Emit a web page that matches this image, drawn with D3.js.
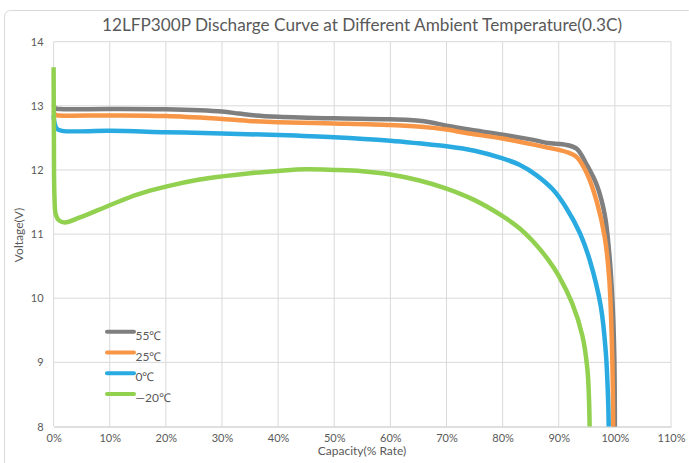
<!DOCTYPE html>
<html><head><meta charset="utf-8">
<script src="https://cdn.jsdelivr.net/npm/d3@7"></script>
<style>html,body{margin:0;padding:0;background:#fff;}svg{display:block;}</style>
</head><body>
<svg id="chart" width="689" height="463"></svg>
<script>
const seriesNames = ["55℃", "25℃", "0℃", "—20℃"];
const seriesColors = ["#7f7f7f", "#f79646", "#29abe2", "#92d050"];

const cap55 = [0, 0.3, 1, 10, 20, 26, 30, 33, 36, 40, 50, 60, 66, 70, 74, 80, 86.5, 88, 91.4, 93.2, 95, 96.8, 98.2, 99, 99.6, 99.9, 100.0];
const v55   = [13.02, 12.96, 12.95, 12.95, 12.945, 12.93, 12.91, 12.88, 12.85, 12.83, 12.805, 12.79, 12.76, 12.69, 12.63, 12.55, 12.45, 12.42, 12.39, 12.33, 12.08, 11.76, 11.3, 10.7, 9.9, 9.1, 8.0];

const cap25 = [0, 0.3, 1, 10, 20, 30, 36, 40, 50, 60, 66, 70, 74, 80, 87.4, 91.4, 93.2, 95, 96.8, 98.2, 99.0, 99.4, 99.6, 99.7];
const v25   = [12.92, 12.86, 12.85, 12.85, 12.84, 12.795, 12.76, 12.745, 12.725, 12.70, 12.67, 12.63, 12.57, 12.49, 12.36, 12.28, 12.2, 11.95, 11.5, 10.95, 10.3, 9.5, 8.8, 8.0];

const cap0 = [0, 0.2, 0.6, 1.5, 10, 20, 30, 40, 50, 60, 65, 70, 75, 80, 83, 86, 89, 91.4, 93.8, 95.5, 97.5, 98.4, 98.8, 98.9];
const v0   = [12.85, 12.72, 12.64, 12.61, 12.61, 12.59, 12.57, 12.545, 12.51, 12.455, 12.415, 12.37, 12.30, 12.18, 12.08, 11.92, 11.69, 11.4, 11.01, 10.6, 9.87, 9.14, 8.4, 8.0];

const capM20 = [0, 0.05, 0.15, 0.4, 1, 2, 4.7, 10, 15, 20, 26, 30, 35, 40, 45, 50, 55, 60, 65, 70, 75, 80, 83, 86, 88.2, 90, 92.4, 94.2, 95.1, 95.4, 95.5];
const vM20   = [13.6, 12.6, 11.6, 11.3, 11.21, 11.18, 11.26, 11.45, 11.62, 11.74, 11.85, 11.9, 11.95, 11.985, 12.01, 12.0, 11.98, 11.93, 11.84, 11.71, 11.53, 11.28, 11.09, 10.83, 10.59, 10.35, 9.92, 9.42, 8.9, 8.4, 8.0];

const xTicks = [0, 10, 20, 30, 40, 50, 60, 70, 80, 90, 100, 110];
const yTicks = [8, 9, 10, 11, 12, 13, 14];

const title = "12LFP300P Discharge Curve at Different Ambient Temperature(0.3C)";
const xTitle = "Capacity(% Rate)";
const yTitle = "Voltage(V)";

const series = [
  {name: seriesNames[0], color: seriesColors[0], cap: cap55, v: v55},
  {name: seriesNames[1], color: seriesColors[1], cap: cap25, v: v25},
  {name: seriesNames[2], color: seriesColors[2], cap: cap0, v: v0},
  {name: seriesNames[3], color: seriesColors[3], cap: capM20, v: vM20}
];

const svg = d3.select("#chart");
const font = "Lato, 'Open Sans', sans-serif";
const txt = "#595959";

svg.append("rect").attr("x", 4.5).attr("y", 10.5).attr("width", 690).attr("height", 470)
  .attr("rx", 6).attr("fill", "#fff").attr("stroke", "#d9d9d9");

const x = d3.scaleLinear().domain([0, 110]).range([53.6, 671]);
const y = d3.scaleLinear().domain([8, 14]).range([426.5, 41.7]);

svg.append("g").selectAll("line").data(yTicks.filter(d => d > 8)).join("line")
  .attr("x1", x(0)).attr("x2", x(110)).attr("y1", d => y(d)).attr("y2", d => y(d))
  .attr("stroke", "#d9d9d9").attr("stroke-width", 1);
svg.append("g").selectAll("line").data(xTicks).join("line")
  .attr("x1", d => x(d)).attr("x2", d => x(d)).attr("y1", y(14)).attr("y2", y(8))
  .attr("stroke", "#d9d9d9").attr("stroke-width", 1);

const xAxis = d3.axisBottom(x).tickValues(xTicks).tickSize(0).tickPadding(8).tickFormat(d => d + "%");
const gx = svg.append("g").attr("transform", `translate(0,${y(8)})`).call(xAxis);
gx.select(".domain").attr("stroke", "#bfbfbf");
gx.selectAll("text").attr("fill", txt).style("font-family", font).style("font-size", "11px");

const yAxis = d3.axisLeft(y).tickValues(yTicks).tickSize(0).tickPadding(10).tickFormat(d3.format("d"));
const gy = svg.append("g").attr("transform", `translate(${x(0)},0)`).call(yAxis);
gy.select(".domain").remove();
gy.selectAll("text").attr("fill", txt).style("font-family", font).style("font-size", "11px");

const line = d3.line().x(d => x(d[0])).y(d => y(d[1])).curve(d3.curveCatmullRom.alpha(0.5));
svg.append("g").selectAll("path").data(series).join("path")
  .attr("d", s => line(s.cap.map((c, i) => [c, s.v[i]])))
  .attr("fill", "none").attr("stroke", s => s.color).attr("stroke-width", 4.5)
  .attr("stroke-linejoin", "round");

svg.append("text").attr("x", 362).attr("y", 31).attr("text-anchor", "middle")
  .attr("fill", txt).style("font-family", font).style("font-size", "17.2px").text(title);
svg.append("text").attr("x", 362).attr("y", 455).attr("text-anchor", "middle")
  .attr("fill", txt).style("font-family", font).style("font-size", "12px").text(xTitle);
svg.append("text").attr("transform", "translate(23,235) rotate(-90)").attr("text-anchor", "middle")
  .attr("fill", txt).style("font-family", font).style("font-size", "12px").text(yTitle);

const lg = svg.append("g").selectAll("g").data(series).join("g")
  .attr("transform", (d, i) => `translate(107,${331.7 + i * 20.8})`);
lg.append("line").attr("x1", 0).attr("x2", 27).attr("y1", 0).attr("y2", 0)
  .attr("stroke", d => d.color).attr("stroke-width", 4).attr("stroke-linecap", "round");
lg.append("text").attr("x", 28.5).attr("y", 8).attr("fill", txt)
  .style("font-family", font).style("font-size", "12px").text(d => d.name);
</script>
</body></html>
